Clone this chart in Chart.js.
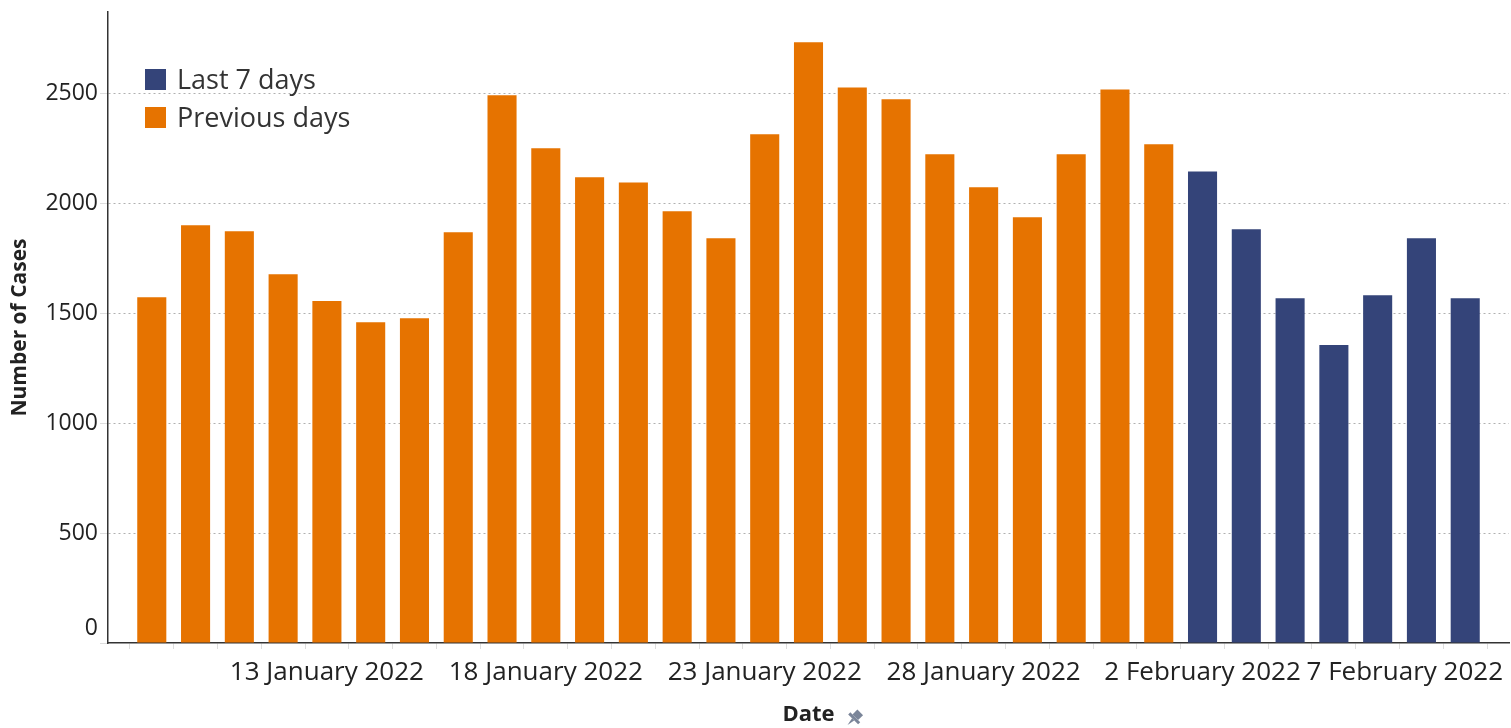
<!DOCTYPE html>
<html>
<head>
<meta charset="utf-8">
<script src="https://cdn.jsdelivr.net/npm/chart.js@4"></script>
<style>
    html, body { margin: 0; padding: 0; background: #fff; }
    #wrap { width: 1511px; height: 728px; }
</style>
</head>
<body>
<div id="wrap"><canvas id="chart"></canvas></div>
<script>
const dates = [
    "9 January 2022", "10 January 2022", "11 January 2022", "12 January 2022", "13 January 2022",
    "14 January 2022", "15 January 2022", "16 January 2022", "17 January 2022", "18 January 2022",
    "19 January 2022", "20 January 2022", "21 January 2022", "22 January 2022", "23 January 2022",
    "24 January 2022", "25 January 2022", "26 January 2022", "27 January 2022", "28 January 2022",
    "29 January 2022", "30 January 2022", "31 January 2022", "1 February 2022", "2 February 2022",
    "3 February 2022", "4 February 2022", "5 February 2022", "6 February 2022", "7 February 2022",
    "8 February 2022"
];
const previousDays = [
    1573, 1900, 1873, 1677, 1555, 1459, 1477, 1868, 2491, 2250, 2118, 2095,
    1964, 1841, 2314, 2732, 2527, 2473, 2223, 2073, 1936, 2223, 2518, 2268
];
const last7Days = [2145, 1882, 1568, 1355, 1582, 1841, 1568];
const yTicks = [0, 500, 1000, 1500, 2000, 2500];

const FONT = "'Open Sans', 'Noto Sans', sans-serif";
const colors = {
    orange: "#e67300",
    navy: "#344479",
    grid: "#b0b0b0",
    tick: "#dedede",
    axis: "#333333",
    text: "#222222"
};

// bars sit on a linear index axis: previous days first, last 7 days after
const prevPoints = previousDays.map((v, i) => ({ x: i, y: v }));
const lastPoints = last7Days.map((v, i) => ({ x: previousDays.length + i, y: v }));

// legend drawn inside the plot area, top-left
const insideLegend = {
    id: "insideLegend",
    afterDraw(chart) {
        const ctx = chart.ctx;
        const area = chart.chartArea;
        const items = [
            { text: chart.data.datasets[1].label, color: chart.data.datasets[1].backgroundColor },
            { text: chart.data.datasets[0].label, color: chart.data.datasets[0].backgroundColor }
        ];
        ctx.save();
        ctx.font = `27px ${FONT}`;
        ctx.textBaseline = "middle";
        items.forEach((it, idx) => {
            const y = area.top + 68 + idx * 38;
            ctx.fillStyle = it.color;
            ctx.fillRect(area.left + 37, y - 11, 21, 21);
            ctx.fillStyle = "#333";
            ctx.fillText(it.text, area.left + 69, y + 1);
        });
        ctx.restore();
    }
};

// keep the last date label inside the canvas and lift the "0" off the axis line
const labelNudge = {
    id: "labelNudge",
    beforeDraw(chart) {
        const ctx = chart.ctx;
        const xs = chart.scales.x;
        const ys = chart.scales.y;
        xs.getLabelItems().forEach((it) => {
            if (!it.label) return;
            ctx.font = it.font.string;
            const w = ctx.measureText(it.label).width;
            const limit = chart.width - w / 2 - 8;
            if (it.options.translation[0] > limit) it.options.translation[0] = limit;
        });
        ys.getLabelItems().forEach((it) => {
            if (it.label === "0") it.options.translation[1] = ys.getPixelForValue(0) - 15;
        });
    }
};

// small pin glyph next to the x axis title
const titlePin = {
    id: "titlePin",
    afterDraw(chart) {
        const ctx = chart.ctx;
        const area = chart.chartArea;
        ctx.save();
        ctx.font = `bold 22px ${FONT}`;
        const w = ctx.measureText("Date").width;
        const cx = (area.left + area.right) / 2 + w / 2 + 20;
        const cy = 718;
        ctx.translate(cx, cy);
        ctx.rotate(Math.PI / 4);
        ctx.fillStyle = "#7a8599";
        ctx.fillRect(-4, -8, 8, 7);
        ctx.fillRect(-7, -1, 14, 3);
        ctx.beginPath();
        ctx.moveTo(-1.5, 2);
        ctx.lineTo(1.5, 2);
        ctx.lineTo(0, 10);
        ctx.closePath();
        ctx.fill();
        ctx.restore();
    }
};

new Chart(document.getElementById("chart"), {
    type: "bar",
    data: {
        datasets: [
            {
                label: "Previous days",
                data: prevPoints,
                backgroundColor: colors.orange,
                grouped: false,
                categoryPercentage: 0.8,
                barPercentage: 0.83
            },
            {
                label: "Last 7 days",
                data: lastPoints,
                backgroundColor: colors.navy,
                grouped: false,
                categoryPercentage: 0.8,
                barPercentage: 0.83
            }
        ]
    },
    options: {
        responsive: true,
        maintainAspectRatio: false,
        animation: false,
        layout: { padding: { top: 12, right: 2, left: 0, bottom: 0 } },
        plugins: {
            legend: { display: false },
            tooltip: { enabled: false }
        },
        scales: {
            x: {
                type: "linear",
                min: -1,
                max: dates.length,
                offset: false,
                afterFit: (scale) => {
                    scale.height = 85;
                    scale.paddingLeft = 0;
                    scale.paddingRight = 0;
                },
                border: { color: colors.axis, width: 1.5 },
                grid: {
                    drawOnChartArea: false,
                    tickLength: 6,
                    tickColor: colors.tick
                },
                ticks: {
                    stepSize: 1,
                    autoSkip: false,
                    maxRotation: 0,
                    padding: 8,
                    color: colors.text,
                    font: { family: FONT, size: 26 },
                    callback: (v) => {
                        const i = Math.round(v);
                        return (i >= 0 && i < dates.length && i % 5 === 4) ? dates[i] : "";
                    }
                },
                title: {
                    display: true,
                    text: "Date",
                    color: colors.text,
                    font: { family: FONT, size: 22, weight: "bold" },
                    padding: { top: 7, bottom: 0 }
                }
            },
            y: {
                min: 0,
                max: 2870,
                afterFit: (scale) => {
                    scale.width = 108;
                    scale.paddingTop = 0;
                    scale.paddingBottom = 0;
                },
                afterBuildTicks: (scale) => { scale.ticks = yTicks.map((v) => ({ value: v })); },
                border: { color: colors.axis, width: 1.5, dash: [2, 3] },
                grid: {
                    color: (c) => (c.tick && c.tick.value > 0) ? colors.grid : "transparent",
                    tickColor: colors.tick,
                    tickLength: 8,
                    lineWidth: 1
                },
                ticks: {
                    padding: 2,
                    color: colors.text,
                    font: { family: FONT, size: 23 },
                    callback: (v) => String(v)
                },
                title: {
                    display: true,
                    text: "Number of Cases",
                    color: colors.text,
                    font: { family: FONT, size: 21, weight: "bold" },
                    padding: { top: 7, bottom: 0 }
                }
            }
        }
    },
    plugins: [labelNudge, insideLegend, titlePin]
});
</script>
</body>
</html>
